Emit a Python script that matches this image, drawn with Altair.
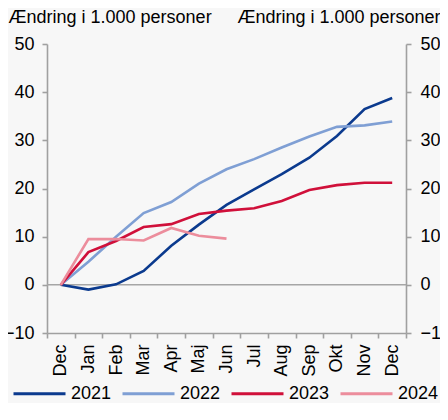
import altair as alt
import pandas as pd

months = ["Dec", "Jan", "Feb", "Mar", "Apr", "Maj", "Jun", "Jul", "Aug", "Sep", "Okt", "Nov", "Dec"]
years = ["2021", "2022", "2023", "2024"]
v2021 = [0, -1.0, 0.1, 2.9, 8.1, 12.5, 16.6, 19.8, 23.0, 26.4, 30.9, 36.5, 38.8]
v2022 = [0, 4.8, 10.0, 14.9, 17.2, 21.0, 24.0, 26.1, 28.5, 30.8, 32.8, 33.1, 33.9]
v2023 = [0, 6.8, 9.1, 12.0, 12.6, 14.7, 15.4, 15.9, 17.4, 19.7, 20.7, 21.2, 21.2]
v2024 = [0, 9.5, 9.5, 9.2, 11.8, 10.2, 9.6]
colors = ["#0b3a8e", "#7f9fd4", "#d0103a", "#ec8d9c"]

rows = []
for y, vals in zip(years, [v2021, v2022, v2023, v2024]):
    for i, v in enumerate(vals):
        rows.append({"idx": i, "value": v, "year": y})
df = pd.DataFrame(rows)
zero = pd.DataFrame({"zero": [0]})

label_expr = "[" + ",".join("'%s'" % m for m in months) + "][datum.value]"
font = "Liberation Sans"
title_txt = "Ændring i 1.000 personer"

yscale = alt.Scale(domain=[-10, 50], nice=False, zero=False)

lines = alt.Chart(df).mark_line(strokeWidth=2.6).encode(
    x=alt.X("idx:O", bandPosition=0.5,
            scale=alt.Scale(type="band", paddingInner=0, paddingOuter=0),
            axis=alt.Axis(title=None, labelExpr=label_expr, labelAngle=-90,
                          labelAlign="right", labelBaseline="middle",
                          tickBand="extent", labelPadding=6)),
    y=alt.Y("value:Q", scale=yscale,
            axis=alt.Axis(orient="left", values=[-10, 0, 10, 20, 30, 40, 50],
                          title=title_txt, titleAngle=0, titleAlign="left",
                          titleBaseline="alphabetic", titleX=-39, titleY=-22,
                          titleFontWeight="normal", titleFontSize=18,
                          labelPadding=8)),
    color=alt.Color("year:N", scale=alt.Scale(domain=years, range=colors),
                    legend=alt.Legend(title=None, orient="none", direction="horizontal",
                                      columns=4, legendX=-35, legendY=322,
                                      symbolType="stroke", symbolSize=2704,
                                      symbolStrokeWidth=3, labelFontSize=18,
                                      labelOffset=4, columnPadding=4,
                                      labelFont=font, labelColor="#000000")),
)

rule = alt.Chart(zero).mark_rule(color="#a6a6a6", strokeWidth=1.5).encode(
    y=alt.Y("zero:Q", scale=yscale,
            axis=alt.Axis(orient="right", values=[-10, 0, 10, 20, 30, 40, 50],
                          title=title_txt, titleAngle=0, titleAlign="right",
                          titleBaseline="alphabetic", titleX=34, titleY=-22,
                          titleFontWeight="normal", titleFontSize=18,
                          labelPadding=9))
)

chart = alt.layer(rule, lines).resolve_scale(y="shared").resolve_axis(y="independent").properties(
    width=359, height=289,
    autosize=alt.AutoSizeParams(type="none"),
    padding={"left": 39, "top": 36, "right": 34, "bottom": 70},
    background="#f7f7f7",
).configure_axis(
    domainColor="#a0a0a0", tickColor="#a0a0a0", domainWidth=1.6, tickWidth=1.6,
    tickSize=5, labelFont=font, titleFont=font, labelFontSize=18,
    labelColor="#000000", titleColor="#000000", grid=False,
).configure_view(stroke=None)

chart.save("out.html", embed_options={"renderer": "svg", "actions": False})
